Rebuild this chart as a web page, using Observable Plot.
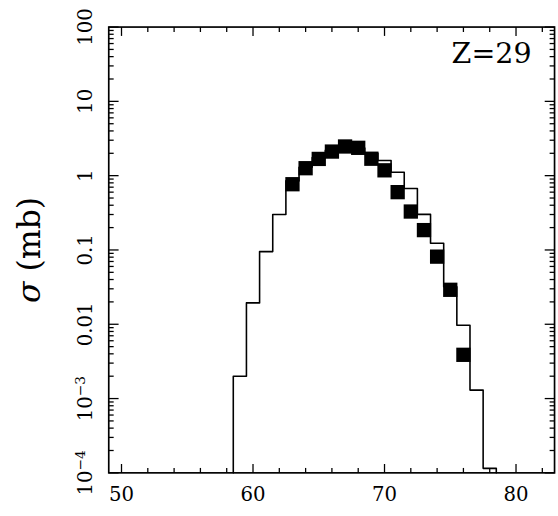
<!DOCTYPE html>
<html>
<head>
<meta charset="utf-8">
<script src="https://cdn.jsdelivr.net/npm/d3@7"></script>
<script src="https://cdn.jsdelivr.net/npm/@observablehq/plot@0.6"></script>
<style>
html, body { margin: 0; padding: 0; overflow: hidden; background: #fff; }
svg { display: block; }
</style>
</head>
<body>
<div id="chart"></div>
<script>
// Histogram (calculation): bin centres (mass number A) and cross sections (mb)
const histA = [59, 60, 61, 62, 63, 64, 65, 66, 67, 68, 69, 70, 71, 72, 73, 74, 75, 76, 77, 78];
const histSigma = [0.002, 0.0194, 0.095, 0.30, 0.85, 1.3, 1.75, 2.2, 2.45, 2.35, 2.0, 1.6, 1.11, 0.673, 0.301, 0.123, 0.032, 0.0097, 0.0013, 0.000115];

// Measured points (filled squares)
const dataA = [63, 64, 65, 66, 67, 68, 69, 70, 71, 72, 73, 74, 75, 76];
const dataSigma = [0.767, 1.26, 1.68, 2.11, 2.47, 2.37, 1.69, 1.18, 0.60, 0.329, 0.185, 0.0813, 0.0291, 0.00388];

// Axes
const xDomain = [49.03, 82.93];
const yDomain = [1e-4, 100];
const xMajorTicks = [50, 60, 70, 80];
const xTickLabels = ["50", "60", "70", "80"];
const yMajorTicks = [1e-4, 1e-3, 0.01, 0.1, 1, 10, 100];
const yTickLabels = ["10|\u22124", "10|\u22123", "0.01", "0.1", "1", "10", "100"];
const yTitle = "σ (mb)";
const panelLabel = "Z=29";

// derived tick sets
const xMinorTicks = d3.range(50, 83, 2).filter(v => !xMajorTicks.includes(v));
const yMinorTicks = [];
for (const dec of yMajorTicks.slice(0, -1)) for (let k = 2; k <= 9; k++) yMinorTicks.push(dec * k);

// histogram outline points (step-after through bin edges)
const bottom = yDomain[0];
const step = [{x: histA[0] - 0.5, y: bottom}];
histA.forEach((a, i) => step.push({x: a - 0.5, y: histSigma[i]}));
step.push({x: histA[histA.length - 1] + 0.5, y: histSigma[histSigma.length - 1]});
step.push({x: histA[histA.length - 1] + 0.5, y: bottom});

const squares = dataA.map((a, i) => ({a, s: dataSigma[i]}));

const tickShape = {draw(context, l) { context.moveTo(0, 0); context.lineTo(0, -l); }};
const tick = (data, opts) => Plot.vector(data, {
  anchor: "start", shape: tickShape, stroke: "black", strokeWidth: 1.3, strokeLinecap: "butt", ...opts
});

const chart = Plot.plot({
  width: 567,
  height: 516,
  marginLeft: 110,
  marginRight: 4,
  marginTop: 27,
  marginBottom: 36,
  style: {background: "white", fontFamily: "'DejaVu Serif', serif", color: "black"},
  x: {domain: xDomain, axis: null},
  y: {type: "log", domain: yDomain, axis: null},
  marks: [
    Plot.line(step, {x: "x", y: "y", curve: "step-after", stroke: "black", strokeWidth: 1.6}),
    Plot.dot(squares, {x: "a", y: "s", symbol: "square", r: 8.2, fill: "black", stroke: "none"}),
    // ticks
    tick(xMajorTicks, {x: d => d, frameAnchor: "bottom", rotate: 0, length: 9}),
    tick(xMinorTicks, {x: d => d, frameAnchor: "bottom", rotate: 0, length: 5}),
    tick(xMajorTicks, {x: d => d, frameAnchor: "top", rotate: 180, length: 9}),
    tick(xMinorTicks, {x: d => d, frameAnchor: "top", rotate: 180, length: 5}),
    tick(yMajorTicks, {y: d => d, frameAnchor: "left", rotate: 90, length: 10}),
    tick(yMinorTicks, {y: d => d, frameAnchor: "left", rotate: 90, length: 5}),
    tick(yMajorTicks, {y: d => d, frameAnchor: "right", rotate: -90, length: 10}),
    tick(yMinorTicks, {y: d => d, frameAnchor: "right", rotate: -90, length: 5}),
    Plot.frame({stroke: "black", strokeWidth: 1.7}),
    // tick labels
    Plot.text(xMajorTicks, {x: d => d, text: (d, i) => xTickLabels[i], frameAnchor: "bottom", dy: 22,
      lineAnchor: "middle", fontSize: 20, fill: "black"}),
    Plot.text(yMajorTicks, {y: d => d, text: (d, i) => yTickLabels[i].replace("|", ""), frameAnchor: "left", dx: -23,
      rotate: -90, textAnchor: "middle", lineAnchor: "middle", fontSize: 20, fill: "black"}),
    // axis title
    Plot.text([yTitle], {text: d => d, frameAnchor: "left", dx: -80, rotate: -90,
      textAnchor: "middle", lineAnchor: "middle", fontSize: 32, fill: "black"}),
    // panel label
    Plot.text([panelLabel], {text: d => d, frameAnchor: "top-right", dx: -64, dy: 27,
      textAnchor: "middle", lineAnchor: "middle", fontSize: 29, fill: "black"})
  ]
});

// italic sigma in the axis title
d3.select(chart).selectAll("text").filter(function () { return this.textContent === yTitle; })
  .each(function () {
    const t = d3.select(this);
    t.text(null);
    t.append("tspan").attr("font-style", "italic").text("σ");
    t.append("tspan").text(" (mb)");
  });

// superscript exponents on the power-of-ten tick labels
yTickLabels.filter(s => s.includes("|")).forEach(lbl => {
  const [base, exp] = lbl.split("|");
  d3.select(chart).selectAll("text").filter(function () { return this.textContent === base + exp; })
    .each(function () {
      const t = d3.select(this);
      t.text(null);
      t.append("tspan").text(base);
      t.append("tspan").attr("font-size", 14).attr("dy", "-0.55em").text(exp);
    });
});

document.getElementById("chart").appendChild(chart);
</script>
</body>
</html>
